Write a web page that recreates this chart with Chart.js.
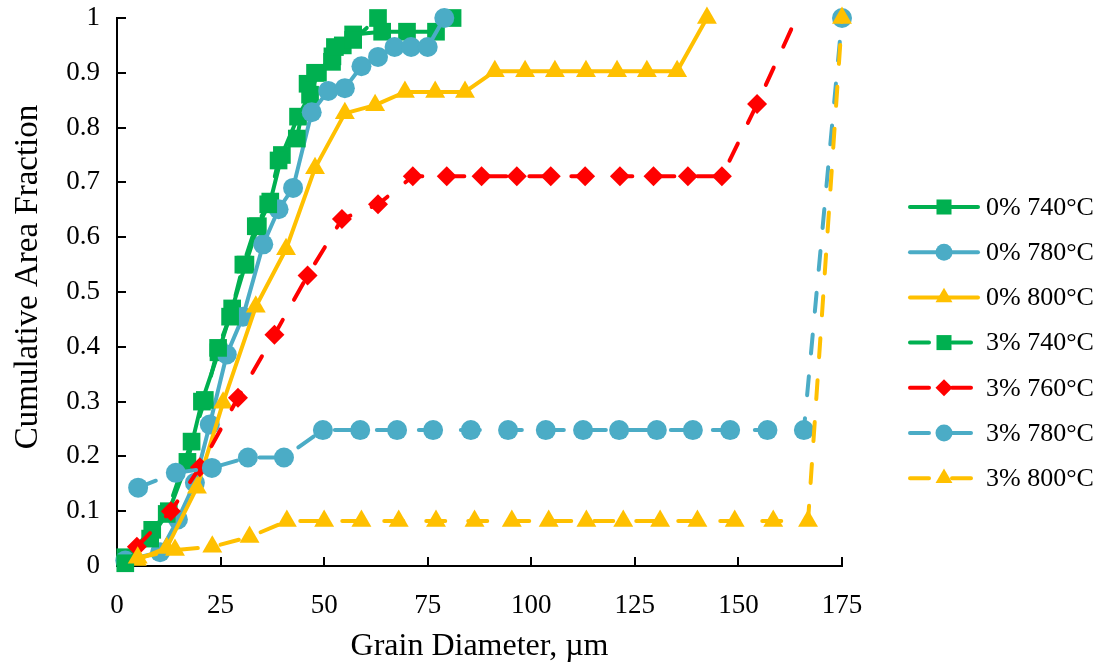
<!DOCTYPE html>
<html>
<head>
<meta charset="utf-8">
<title>Cumulative Area Fraction</title>
<script src="https://cdn.jsdelivr.net/npm/chart.js@4.4.0/dist/chart.umd.min.js"></script>
<style>
  html, body { margin: 0; padding: 0; background: #fff; }
  #wrap { width: 1104px; height: 666px; }
</style>
</head>
<body>
<div id="wrap"><canvas id="chart" width="1104" height="666"></canvas></div>
<script>
// tick labels
const xTickValues = [0, 25, 50, 75, 100, 125, 150, 175];
const yTickLabels = ['0', '0.1', '0.2', '0.3', '0.4', '0.5', '0.6', '0.7', '0.8', '0.9', '1'];

// series names
const seriesNames = ['0% 740°C', '0% 780°C', '0% 800°C', '3% 740°C', '3% 760°C', '3% 780°C', '3% 800°C'];

// 0% 740°C
const s0740x = [2, 8.5, 12.5, 17, 20.5, 24.5, 27.8, 31, 34, 37, 39.8, 43.7, 46.6, 48.5, 52, 54.5, 57, 64, 70, 77, 81];
const s0740y = [0.016, 0.066, 0.1, 0.19, 0.3, 0.39, 0.47, 0.55, 0.62, 0.665, 0.75, 0.82, 0.86, 0.9, 0.93, 0.95, 0.97, 0.975, 0.975, 0.975, 1.0];

// 0% 780°C
const s0780x = [2, 10.4, 14.7, 18.8, 22.4, 26.5, 30.4, 35.3, 39, 42.5, 47, 51, 55, 59, 63, 67, 71, 75, 79];
const s0780y = [0.01, 0.025, 0.085, 0.152, 0.258, 0.386, 0.455, 0.587, 0.651, 0.69, 0.828, 0.867, 0.872, 0.912, 0.929, 0.947, 0.947, 0.947, 1.0];

// 0% 800°C
const s0800x = [4.8, 12, 19.3, 25.6, 33.5, 40.8, 47.8, 55, 62.3, 69.5, 76.8, 84, 91.2, 98.5, 105.7, 113.2, 120.7, 127.9, 135.2, 142.4];
const s0800y = [0.011, 0.033, 0.143, 0.298, 0.473, 0.578, 0.726, 0.826, 0.841, 0.865, 0.865, 0.865, 0.903, 0.903, 0.903, 0.903, 0.903, 0.903, 0.903, 1.0];

// 3% 740°C
const s3740x = [2, 8, 12, 18, 21.2, 24.4, 27.3, 30.5, 33.5, 36.5, 39, 43.4, 46, 47.8, 51.9, 52.6, 57, 63];
const s3740y = [0.005, 0.05, 0.095, 0.227, 0.303, 0.398, 0.455, 0.55, 0.62, 0.66, 0.74, 0.78, 0.88, 0.9, 0.92, 0.947, 0.96, 1.0];

// 3% 760°C
const s3760x = [4.8, 13, 20, 29.2, 38, 46, 54.3, 63, 71.4, 79.6, 88, 96.5, 104.7, 113, 121.4, 129.5, 137.8, 146, 154.5, 164];
const s3760y = [0.035, 0.1, 0.18, 0.307, 0.422, 0.53, 0.633, 0.66, 0.711, 0.711, 0.711, 0.711, 0.711, 0.711, 0.711, 0.711, 0.711, 0.711, 0.843, 1.0];

// 3% 780°C
const s3780x = [5.1, 14.2, 22.9, 31.6, 40.3, 49.7, 58.7, 67.6, 76.3, 85.4, 94.4, 103.5, 112.5, 121.2, 130.3, 139, 148, 157, 165.8, 175];
const s3780y = [0.143, 0.17, 0.179, 0.198, 0.198, 0.248, 0.248, 0.248, 0.248, 0.248, 0.248, 0.248, 0.248, 0.248, 0.248, 0.248, 0.248, 0.248, 0.248, 1.0];

// 3% 800°C
const s3800x = [5, 14, 23, 32, 41, 50, 59, 68, 77, 86.3, 95.3, 104.2, 113.3, 122.2, 131.1, 140.1, 149.1, 158.4, 166.8, 175];
const s3800y = [0.015, 0.029, 0.035, 0.053, 0.082, 0.082, 0.082, 0.082, 0.082, 0.082, 0.082, 0.082, 0.082, 0.082, 0.082, 0.082, 0.082, 0.082, 0.082, 1.0];

function pts(xs, ys) {
    return xs.map((x, i) => ({ x: x, y: ys[i] }));
}

const GREEN = '#00B050';
const BLUE = '#4BACC6';
const YELLOW = '#FFC000';
const RED = '#FF0000';
const DASH = [19, 23];
const FONT = 'Liberation Serif, Times New Roman, serif';

function series(i, xs, ys, color, style, radius, dashed) {
    return {
        label: seriesNames[i],
        data: pts(xs, ys),
        borderColor: color,
        backgroundColor: color,
        pointBackgroundColor: color,
        pointBorderWidth: 0,
        pointStyle: style,
        pointRadius: radius,
        markerRadius: Array.isArray(radius) ? radius[0] : radius,
        borderWidth: 4,
        borderDash: dashed ? DASH : [],
        borderCapStyle: 'round',
        borderJoinStyle: 'round',
        tension: 0,
        fill: false,
        clip: false,
        order: 10 - i   // later series drawn on top, as in the original
    };
}

const redRadius = s3760x.map((x, i) => i === s3760x.length - 1 ? 0 : 10);

const datasets = [
    series(0, s0740x, s0740y, GREEN, 'rect', 12.5, false),
    series(1, s0780x, s0780y, BLUE, 'circle', 10, false),
    series(2, s0800x, s0800y, YELLOW, 'triangle', 11.5, false),
    series(3, s3740x, s3740y, GREEN, 'rect', 12.5, true),
    series(4, s3760x, s3760y, RED, 'rectRot', redRadius, true),
    series(5, s3780x, s3780y, BLUE, 'circle', 10, true),
    series(6, s3800x, s3800y, YELLOW, 'triangle', 11.5, true)
];

// legend on the right (line + marker + text) and the y axis title
const sideLegend = {
    id: 'sideLegend',
    afterDraw(chart) {
        const ctx = chart.ctx;
        chart.data.datasets.forEach((ds, i) => {
            const y = 207 + i * 45.2;
            ctx.save();
            ctx.strokeStyle = ds.borderColor;
            ctx.lineWidth = ds.borderWidth;
            ctx.lineCap = 'round';
            ctx.setLineDash(ds.borderDash);
            ctx.beginPath();
            ctx.moveTo(910, y);
            ctx.lineTo(978, y);
            ctx.stroke();
            ctx.setLineDash([]);
            ctx.fillStyle = ds.pointBackgroundColor;
            Chart.helpers.drawPoint(ctx, {
                pointStyle: ds.pointStyle,
                radius: ds.markerRadius * 0.85,
                rotation: 0,
                borderWidth: 0
            }, 944, y);
            ctx.fillStyle = '#000';
            ctx.font = '26px ' + FONT;
            ctx.textBaseline = 'middle';
            ctx.textAlign = 'left';
            ctx.fillText(ds.label, 986, y + 1);
            ctx.restore();
        });

        ctx.save();
        ctx.translate(28, 277);
        ctx.rotate(-Math.PI / 2);
        ctx.fillStyle = '#000';
        ctx.font = '33px ' + FONT;
        ctx.textAlign = 'center';
        ctx.textBaseline = 'middle';
        ctx.fillText('Cumulative Area Fraction', 0, 0);
        ctx.restore();
    }
};

new Chart(document.getElementById('chart'), {
    type: 'line',
    data: { datasets: datasets },
    options: {
        responsive: false,
        animation: false,
        layout: { padding: { left: 0, top: 18, right: 262, bottom: 0 } },
        plugins: {
            legend: { display: false },
            tooltip: { enabled: false }
        },
        scales: {
            x: {
                type: 'linear',
                min: 0,
                max: 175,
                afterBuildTicks: (scale) => { scale.ticks = xTickValues.map(v => ({ value: v })); },
                afterFit: (scale) => {
                    scale.height = 100;
                    scale.paddingLeft = 0;
                    scale.paddingRight = 0;
                },
                border: { color: '#000', width: 2 },
                grid: { drawOnChartArea: false, drawTicks: true, tickLength: -9, color: '#000', lineWidth: 2 },
                ticks: {
                    color: '#000',
                    padding: 33,
                    maxRotation: 0,
                    font: { family: FONT, size: 27 }
                },
                title: {
                    display: true,
                    text: 'Grain Diameter, µm',
                    color: '#000',
                    padding: { top: 0, bottom: 0 },
                    font: { family: FONT, size: 32 }
                }
            },
            y: {
                min: 0,
                max: 1,
                ticks: {
                    stepSize: 0.1,
                    color: '#000',
                    padding: 26,
                    font: { family: FONT, size: 27 },
                    callback: (v, i) => yTickLabels[i]
                },
                afterFit: (scale) => {
                    scale.width = 117;
                    scale.paddingTop = 0;
                    scale.paddingBottom = 0;
                },
                border: { color: '#000', width: 2 },
                grid: { drawOnChartArea: false, drawTicks: true, tickLength: -9, color: '#000', lineWidth: 2 }
            }
        }
    },
    plugins: [sideLegend]
});
</script>
</body>
</html>
